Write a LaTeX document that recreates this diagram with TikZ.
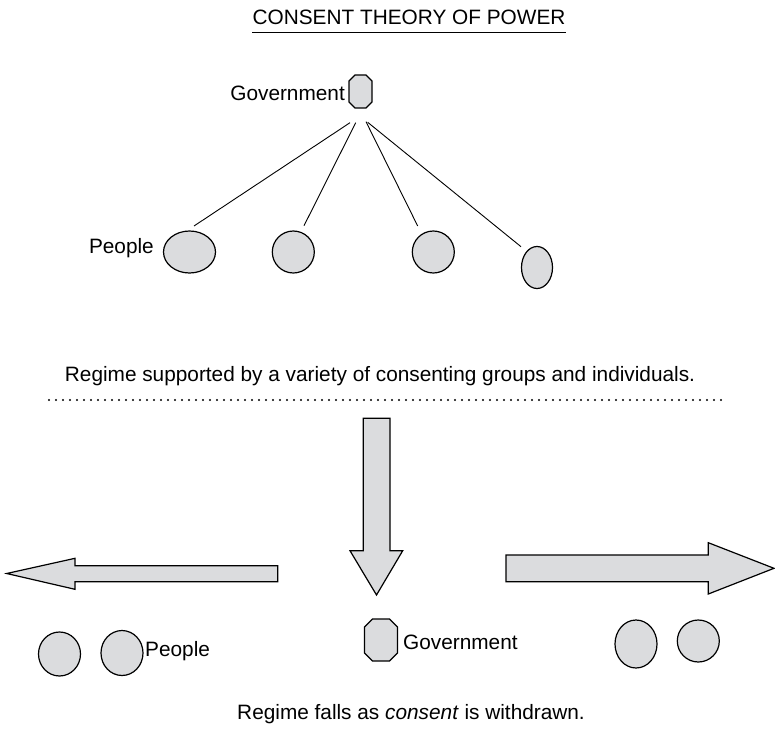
\documentclass[tikz,border=0pt]{standalone}
\usepackage{fontspec}
\setmainfont{Liberation Sans}
\usetikzlibrary{shapes.geometric}
\definecolor{shade}{RGB}{219,220,222}
% octagonal outline drawn round a named rectangle node: #1 node name, #2 chamfer
\newcommand\govoutline[2]{%
  \draw[octo] ([xshift=#2]#1.north west) -- ([xshift=-#2]#1.north east)
    -- ([yshift=-#2]#1.north east) -- ([yshift=#2]#1.south east)
    -- ([xshift=-#2]#1.south east) -- ([xshift=#2]#1.south west)
    -- ([yshift=#2]#1.south west) -- ([yshift=-#2]#1.north west) -- cycle;}
\begin{document}
\begin{tikzpicture}[x=1pt,y=-1pt,
  txt/.style={inner sep=0pt,font=\fontsize{20.8}{25}\selectfont},
  blob/.style={ellipse,draw=black,fill=shade,line width=1.2pt,inner sep=0pt},
  gov/.style={rectangle,inner sep=0pt,outer sep=0pt},
  octo/.style={draw=black,fill=shade,line width=1.2pt,line join=miter},
  link/.style={line width=0.9pt},
  bigarrow/.style={draw=black,fill=shade,line width=1.2pt,line join=miter}]
\useasboundingbox (0,0) rectangle (775,746);

% title
\node[txt,anchor=base] (title) at (409,24.5) {CONSENT THEORY OF POWER};
\draw[line width=1pt] ([yshift=-8pt]title.base west) -- ([yshift=-8pt]title.base east);

% consenting regime
\node[gov,minimum width=23pt,minimum height=33pt] (govtop) at (360.5,91.5) {};
\govoutline{govtop}{6pt}
\node[txt,anchor=base east] (govtoplbl) at (345,100.5) {Government};

\node[blob,minimum width=52pt,minimum height=42pt] (p1) at (189.5,252) {};
\node[blob,minimum width=42pt,minimum height=42pt] (p2) at (293.3,252) {};
\node[blob,minimum width=42pt,minimum height=42pt] (p3) at (433.3,252) {};
\node[blob,minimum width=31pt,minimum height=42pt] (p4) at (537,267.5) {};
\node[txt,anchor=base east] (peopletop) at (154,253) {People};

\coordinate (t1) at (350,122.7);   \coordinate (b1) at (194,226);
\coordinate (t2) at (355.7,122.7); \coordinate (b2) at (304,225.7);
\coordinate (t3) at (366,121.7);   \coordinate (b3) at (417.7,226);
\coordinate (t4) at (367.7,122.3); \coordinate (b4) at (521,246.7);
\draw[link] (t1) -- (b1);
\draw[link] (t2) -- (b2);
\draw[link] (t3) -- (b3);
\draw[link] (t4) -- (b4);

\node[txt,anchor=base] (cap1) at (380,381) {Regime supported by a variety of consenting groups and individuals.};
\coordinate (dl) at (49,400);
\coordinate (dr) at (722,400);
\draw[line width=2.3pt,line cap=round,dash pattern=on 0pt off 7pt] (dl) -- (dr);

% withdrawal of consent
\draw[bigarrow] (363.3,418.3) -- (390,418.3) -- (390,550.7) -- (402.7,550.7)
  -- (376.5,595) -- (350,550.7) -- (363.3,550.7) -- cycle;
\draw[bigarrow] (277.7,565.7) -- (75,565.7) -- (75,558.3) -- (6.7,573.5)
  -- (75,589.3) -- (75,581.7) -- (277.7,581.7) -- cycle;
\draw[bigarrow] (506,555) -- (708.3,555) -- (708.3,542.7) -- (774,568.3)
  -- (708.3,594) -- (708.3,581.7) -- (506,581.7) -- cycle;

\node[blob,minimum width=42pt,minimum height=44pt] (q1) at (59.5,654) {};
\node[blob,minimum width=42pt,minimum height=45pt] (q2) at (122,653) {};
\node[txt,anchor=base west] (peoplebot) at (145,656) {People};

\node[gov,minimum width=33pt,minimum height=42pt] (govbot) at (381,640) {};
\govoutline{govbot}{8pt}
\node[txt,anchor=base west] (govbotlbl) at (403,649) {Government};

\node[blob,minimum width=42pt,minimum height=48pt] (q3) at (636,644) {};
\node[blob,minimum width=42pt,minimum height=42pt] (q4) at (698.3,641) {};

\node[txt,anchor=base] (cap2) at (411,719) {Regime falls as \textit{consent} is withdrawn.};
\end{tikzpicture}
\end{document}
